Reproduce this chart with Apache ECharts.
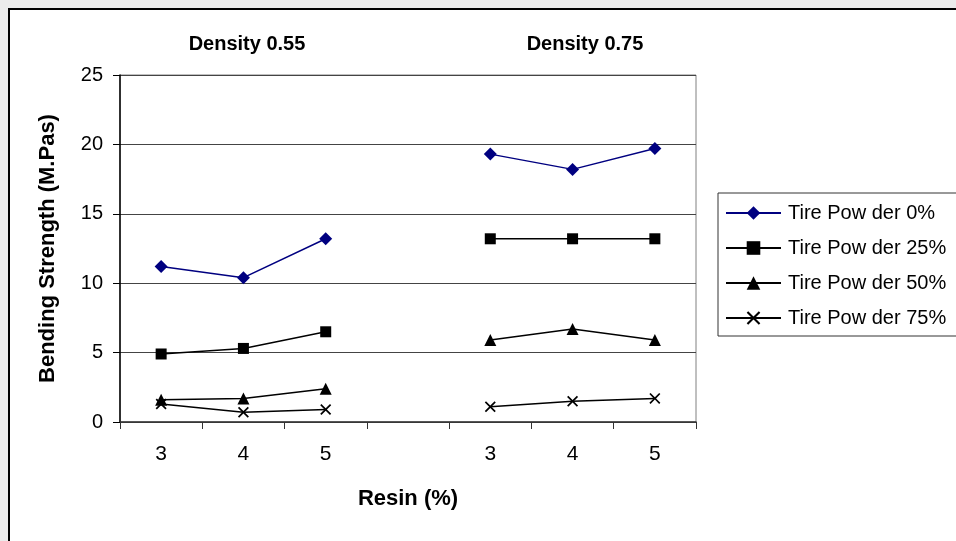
<!DOCTYPE html>
<html>
<head>
<meta charset="utf-8">
<script src="https://cdn.jsdelivr.net/npm/echarts@6/dist/echarts.min.js"></script>
<style>
html,body{margin:0;padding:0;background:#ebebeb;}
#c{width:956px;height:541px;}
</style>
</head>
<body>
<div id="c"></div>
<script>
var categories = ['3', '4', '5', '', '3', '4', '5'];
var seriesNames = ['Tire Pow der 0%', 'Tire Pow der 25%', 'Tire Pow der 50%', 'Tire Pow der 75%'];
var tp0  = [11.2, 10.4, 13.2, null, 19.3, 18.2, 19.7];
var tp25 = [4.9, 5.3, 6.5, null, 13.2, 13.2, 13.2];
var tp50 = [1.6, 1.7, 2.4, null, 5.9, 6.7, 5.9];
var tp75 = [1.3, 0.7, 0.9, null, 1.1, 1.5, 1.7];
var yTicks = [0, 5, 10, 15, 20, 25];

var FONT = 'Liberation Sans, Arial, sans-serif';
var crossPath = 'path://M0,1.1 L1.1,0 L5,3.9 L8.9,0 L10,1.1 L6.1,5 L10,8.9 L8.9,10 L5,6.1 L1.1,10 L0,8.9 L3.9,5 Z';

function mk(name, data, color, symbol, size) {
  return {
    name: name, type: 'line', data: data,
    symbol: symbol, symbolSize: size,
    showAllSymbol: true,
    lineStyle: {color: color, width: 1.5},
    itemStyle: {color: color},
    emphasis: {disabled: true},
    animation: false
  };
}

var chart = echarts.init(document.getElementById('c'));
chart.setOption({
  backgroundColor: '#ebebeb',
  animation: false,
  graphic: [{
    type: 'rect', z: -10,
    shape: {x: 9, y: 9, width: 980, height: 560},
    style: {fill: '#ffffff', stroke: '#000000', lineWidth: 2}
  }],
  title: [
    {text: 'Density 0.55', left: 242, top: 29, textAlign: 'center',
     textStyle: {fontFamily: FONT, fontSize: 20, fontWeight: 'bold', color: '#000'}},
    {text: 'Density 0.75', left: 580, top: 29, textAlign: 'center',
     textStyle: {fontFamily: FONT, fontSize: 20, fontWeight: 'bold', color: '#000'}}
  ],
  legend: {
    orient: 'vertical', left: 718, top: 193,
    padding: [10, 60, 8, 7],
    itemWidth: 55, itemHeight: 17, itemGap: 15,
    borderColor: '#333', borderWidth: 1, backgroundColor: '#fff',
    selectedMode: false,
    textStyle: {fontFamily: FONT, fontSize: 20, color: '#000', padding: [0, 0, 0, 2]},
    data: seriesNames
  },
  grid: {left: 120, top: 75, right: 260, bottom: 119, show: true,
         borderColor: '#808080', borderWidth: 1, backgroundColor: 'transparent'},
  xAxis: {
    type: 'category', data: categories, boundaryGap: true,
    name: 'Resin (%)', nameLocation: 'middle', nameGap: 66,
    nameTextStyle: {fontFamily: FONT, fontSize: 22, fontWeight: 'bold', color: '#000'},
    axisLine: {lineStyle: {color: '#333', width: 1.5}},
    axisTick: {show: true, length: 7, lineStyle: {color: '#333'}, interval: 0},
    axisLabel: {fontFamily: FONT, fontSize: 21, color: '#000', margin: 22, interval: 0},
    splitLine: {show: false}
  },
  yAxis: {
    type: 'value', min: yTicks[0], max: yTicks[yTicks.length - 1], interval: 5,
    name: 'Bending Strength (M.Pas)', nameLocation: 'middle', nameGap: 61,
    nameTextStyle: {fontFamily: FONT, fontSize: 22, fontWeight: 'bold', color: '#000'},
    axisLine: {show: true, lineStyle: {color: '#000', width: 1.5}},
    axisTick: {show: true, length: 7, lineStyle: {color: '#000'}},
    axisLabel: {fontFamily: FONT, fontSize: 20, color: '#000', margin: 17},
    splitLine: {show: true, lineStyle: {color: '#444', width: 1}}
  },
  series: [
    mk(seriesNames[0], tp0, '#000080', 'diamond', 13),
    mk(seriesNames[1], tp25, '#000000', 'rect', 11),
    mk(seriesNames[2], tp50, '#000000', 'triangle', 12),
    mk(seriesNames[3], tp75, '#000000', crossPath, 11)
  ]
});
</script>
</body>
</html>
